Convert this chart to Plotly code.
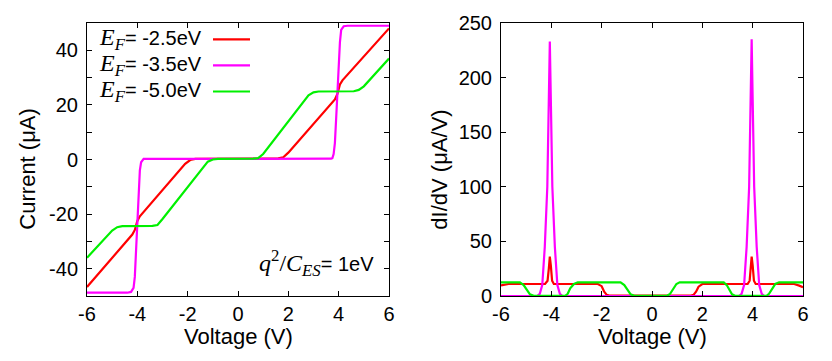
import plotly.graph_objects as go

# ---------------- data ----------------
# I-V curves (left panel)
v_red = [-6, -4.2, -4.1, -4.0, -3.9, -2.1, -1.9, -1.7, 1.6, 1.8, 2.0, 3.85, 3.95, 4.05, 4.15, 6]
i_red = [-46.7, -27.5, -25.8, -22.5, -20.8, -1.6, -0.2, 0.2, 0.4, 0.8, 2.5, 22, 24, 27.5, 29, 48]

v_mag = [-6, -4.4, -4.25, -4.15, -4.1, -4.05, -4.0, -3.95, -3.9, -3.85, -3.75,
         3.7, 3.75, 3.8, 3.85, 3.9, 3.95, 4.0, 4.05, 4.1, 4.2, 4.35, 6]
i_mag = [-48.8, -48.8, -48.5, -47, -43, -33, -22, -11, -4, -1, 0.2,
         0.3, 0.5, 2, 6, 15, 25, 35, 43, 47.5, 48.8, 49, 49]

v_grn = [-6, -5.0, -4.8, -4.6, -3.4, -3.2, -3.0, -1.2, -1.0, -0.8, 0.6, 0.8, 1.0, 2.8, 3.0, 3.2, 4.6, 4.8, 5.0, 6]
i_grn = [-36, -26, -24.8, -24.4, -24.3, -24, -21.8, -0.8, 0, 0.2, 0.3, 0.5, 2, 23.5, 24.6, 24.9, 25, 25.5, 26.8, 37]

# dI/dV curves (right panel)
dv_red = [-6, -5.7, -4.25, -4.15, -4.1, -4.06, -4.02, -3.97, -3.9, -2.15, -2.0, -1.9, -1.8, -1.7,
          1.55, 1.65, 1.75, 1.85, 2.0, 3.8, 3.88, 3.92, 3.96, 4.0, 4.05, 4.12, 5.65, 5.85, 6]
g_red = [9.7, 11, 11, 14, 25, 36, 28, 14, 11, 11, 9, 4, 1, 0.3,
         0.3, 1, 4, 8.5, 11, 11, 14, 25, 36, 28, 14, 11, 11, 9.5, 8]

dv_mag = [-6, -4.56, -4.46, -4.36, -4.26, -4.16, -4.1, -4.06, -4.02, -3.96, -3.86, -3.76, -3.66, -3.56,
          3.46, 3.56, 3.66, 3.76, 3.86, 3.92, 3.96, 4.0, 4.06, 4.16, 4.26, 4.36, 4.46, 6]
g_mag = [0, 0, 2, 10, 45, 100, 180, 233, 180, 100, 45, 10, 2, 0,
         0, 2, 10, 45, 100, 180, 235, 180, 100, 45, 10, 2, 0, 0]

dv_grn = [-6, -5.25, -5.1, -4.95, -4.85, -4.7, -3.45, -3.35, -3.25, -3.1, -2.95, -1.25, -1.1, -0.95, -0.85, -0.7,
          0.6, 0.72, 0.85, 0.97, 1.1, 2.85, 2.97, 3.08, 3.18, 3.3, 4.55, 4.65, 4.78, 4.9, 5.05, 6]
g_grn = [12.5, 12.5, 10, 5, 1.5, 0.2, 0.2, 2, 7, 11, 12.5, 12.5, 10, 5, 1.5, 0.2,
         0.2, 2, 7, 11, 12.5, 12.5, 10, 5, 1.5, 0.2, 0.2, 2, 7, 11, 12.5, 12.5]

legend_labels = ["= -2.5eV", "= -3.5eV", "= -5.0eV"]
colors = ["#ff0000", "#ff00ff", "#00f000"]

x_ticks = [-6, -4, -2, 0, 2, 4, 6]
x_text = ["-6", "-4", "-2", "0", "2", "4", "6"]
y1_ticks = [-40, -30, -20, -10, 0, 10, 20, 30, 40]
y1_text = ["-40", "", "-20", "", "0", "", "20", "", "40"]
y2_ticks = [0, 50, 100, 150, 200, 250]

# ---------------- layout helpers ----------------
W, H = 832, 361
L, R, T, B = 87, 29, 13, 65
PW, PH = W - L - R, H - T - B


def X(px):
    return (px - L) / PW


def Y(py):
    return (H - B - py) / PH


SANS = "Liberation Sans, Arial, sans-serif"
SERIF = "Liberation Serif"

fig = go.Figure()

iv = [(v_red, i_red), (v_mag, i_mag), (v_grn, i_grn)]
di = [(dv_red, g_red), (dv_mag, g_mag), (dv_grn, g_grn)]
for (vx, vy), c in zip(iv, colors):
    fig.add_trace(go.Scatter(x=vx, y=vy, mode="lines", line=dict(color=c, width=2.2),
                             xaxis="x", yaxis="y", showlegend=False))
for (vx, vy), c in zip(di, colors):
    fig.add_trace(go.Scatter(x=vx, y=vy, mode="lines", line=dict(color=c, width=2.2),
                             xaxis="x2", yaxis="y2", showlegend=False))

axis_common = dict(showline=True, mirror="ticks", linecolor="black", linewidth=1,
                   ticks="inside", ticklen=5, tickcolor="black", showgrid=False, zeroline=False,
                   tickfont=dict(family=SANS, size=20, color="black"))

fig.update_layout(
    width=W, height=H,
    margin=dict(l=L, r=R, t=T, b=B),
    paper_bgcolor="white", plot_bgcolor="white",
    xaxis=dict(domain=[0, X(389)], range=[-6, 6], tickvals=x_ticks, ticktext=x_text, anchor="y",
               ticklabelstandoff=0, **axis_common),
    yaxis=dict(domain=[0, 1], range=[-50, 50], tickvals=y1_ticks, ticktext=y1_text, anchor="x",
               ticklabelstandoff=4, **axis_common),
    xaxis2=dict(domain=[X(501), 1], range=[-6, 6], tickvals=x_ticks, ticktext=x_text, anchor="y2",
                ticklabelstandoff=0, **axis_common),
    yaxis2=dict(domain=[0, 1], range=[0, 250], tickvals=y2_ticks, anchor="x2",
                ticklabelstandoff=4, **axis_common),
)

ann = []
shapes = []
rows = [30, 57, 84]
for lab, c, ry in zip(legend_labels, colors, rows):
    ann.append(dict(x=X(204), y=Y(ry), xref="paper", yref="paper", xanchor="right", yanchor="middle",
                    showarrow=False,
                    text=f"<span style='font-family:{SERIF}; font-size:24px'><i>E</i><sub><i>F</i></sub></span>{lab}",
                    font=dict(family=SANS, size=20, color="black")))
    shapes.append(dict(type="line", xref="paper", yref="paper", x0=X(213), x1=X(250), y0=Y(ry), y1=Y(ry),
                       line=dict(color=c, width=2.2)))

ann.append(dict(x=X(376), y=Y(262), xref="paper", yref="paper", xanchor="right", yanchor="middle",
                showarrow=False,
                text=f"<span style='font-family:{SERIF}; font-size:24px'><i>q</i><sup>2</sup>/<i>C</i><sub><i>ES</i></sub></span>= 1eV",
                font=dict(family=SANS, size=20, color="black")))

title_font = dict(family=SANS, size=22, color="black")
ann.append(dict(x=X(28), y=Y(165), xref="paper", yref="paper", xanchor="center", yanchor="middle",
                textangle=-90, showarrow=False, text="Current (μA)", font=title_font))
ann.append(dict(x=X(440), y=Y(165), xref="paper", yref="paper", xanchor="center", yanchor="middle",
                textangle=-90, showarrow=False, text="dI/dV (μA/V)", font=title_font))
ann.append(dict(x=X(238), y=Y(338), xref="paper", yref="paper", xanchor="center", yanchor="middle",
                showarrow=False, text="Voltage (V)", font=title_font))
ann.append(dict(x=X(652), y=Y(338), xref="paper", yref="paper", xanchor="center", yanchor="middle",
                showarrow=False, text="Voltage (V)", font=title_font))

fig.update_layout(annotations=ann, shapes=shapes)
fig.write_html("out.html", config={"displayModeBar": False},
               post_script="document.body.style.margin='0px';document.body.style.overflow='hidden';")
